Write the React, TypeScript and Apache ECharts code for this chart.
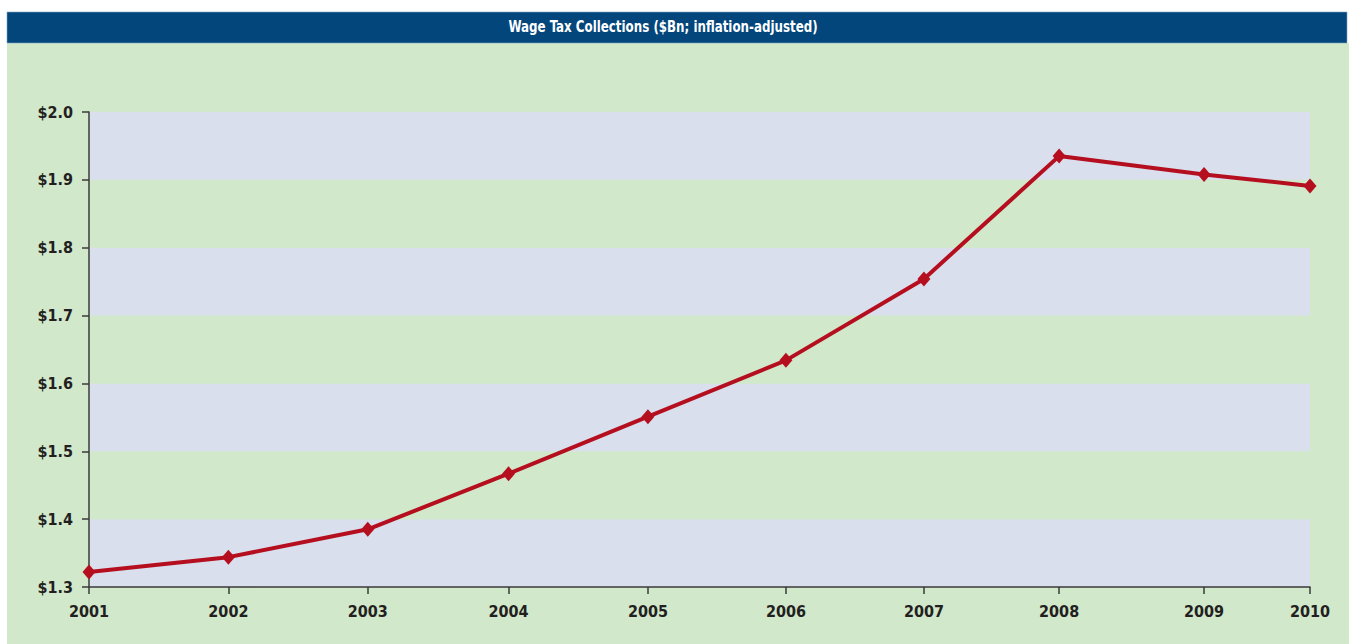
import React, { useEffect, useRef } from "react";
import * as echarts from "echarts";

const titleText = "Wage Tax Collections ($Bn; inflation-adjusted)";
const years = ["2001", "2002", "2003", "2004", "2005", "2006", "2007", "2008", "2009", "2010"];
// x positions of each year's point (fractional years)
const yearPos = [2001.0, 2002.0, 2003.0, 2004.01, 2005.01, 2006.0, 2006.99, 2007.96, 2009.0, 2009.76];
const wageTax = [1.322, 1.344, 1.385, 1.467, 1.551, 1.634, 1.754, 1.935, 1.908, 1.891];
const yMin = 1.3;
const yMax = 2.0;
const yStep = 0.1;

const W = 1349;
const H = 644;
const labelFont = "'Liberation Sans Narrow', 'DejaVu Sans Condensed', 'Liberation Sans', sans-serif";

export default function App() {
  const ref = useRef<HTMLDivElement>(null);
  useEffect(() => {
    if (!ref.current) return;
    const chart = echarts.init(ref.current, null, { renderer: "svg" });
    const data = yearPos.map((x, i) => [x, wageTax[i]]);
    chart.setOption({
      animation: false,
      backgroundColor: "#ffffff",
      graphic: [
        {
          type: "rect",
          z: -10,
          shape: { x: 7, y: 43, width: 1342, height: 601 },
          style: { fill: "#D1E8CB" },
          silent: true,
        },
        {
          type: "rect",
          z: -10,
          shape: { x: 7, y: 12, width: 1340, height: 31 },
          style: { fill: "#02467C", stroke: "#7FA3C0", lineWidth: 0.6 },
          silent: true,
        },
        {
          type: "text",
          x: 663,
          y: 27,
          scaleX: 0.88,
          style: {
            text: titleText,
            fill: "#ffffff",
            font: `bold 15px ${labelFont}`,
            textAlign: "center",
            textVerticalAlign: "middle",
          },
          silent: true,
        },
      ],
      grid: { left: 89, right: W - 1310, top: 112, bottom: H - 587, containLabel: false },
      xAxis: {
        type: "value",
        min: yearPos[0],
        max: yearPos[yearPos.length - 1],
        splitLine: { show: false },
        axisLine: { show: true, lineStyle: { color: "#3a3a3a", width: 1.5 } },
        axisTick: {
          show: true,
          customValues: yearPos,
          length: 7,
          lineStyle: { color: "#3a3a3a", width: 1.5 },
        },
        axisLabel: {
          customValues: yearPos,
          formatter: (v: number) => {
            const i = yearPos.findIndex((p) => Math.abs(p - v) < 1e-6);
            return i >= 0 ? years[i] : "";
          },
          margin: 16,
          color: "#231F20",
          fontWeight: "bold",
          fontSize: 16,
          fontFamily: labelFont,
        },
      },
      yAxis: {
        type: "value",
        min: yMin,
        max: yMax,
        interval: yStep,
        axisLine: { show: true, lineStyle: { color: "#3a3a3a", width: 1.5 } },
        axisTick: { show: true, length: 7, lineStyle: { color: "#3a3a3a", width: 1.5 } },
        splitLine: { show: false },
        splitArea: { show: true, areaStyle: { color: ["#D9DFED", "#D1E8CB"] } },
        axisLabel: {
          formatter: (v: number) => "$" + v.toFixed(1),
          margin: 16,
          color: "#231F20",
          fontWeight: "bold",
          fontSize: 16,
          fontFamily: labelFont,
        },
      },
      series: [
        {
          type: "line",
          data,
          symbol: "diamond",
          symbolSize: [13, 15],
          lineStyle: { color: "#B50F1F", width: 4 },
          itemStyle: { color: "#B50F1F" },
          clip: false,
        },
      ],
    });
    return () => chart.dispose();
  }, []);
  return (
    <div
      ref={ref}
      style={{ position: "fixed", left: 0, top: 0, width: W, height: H }}
    />
  );
}
